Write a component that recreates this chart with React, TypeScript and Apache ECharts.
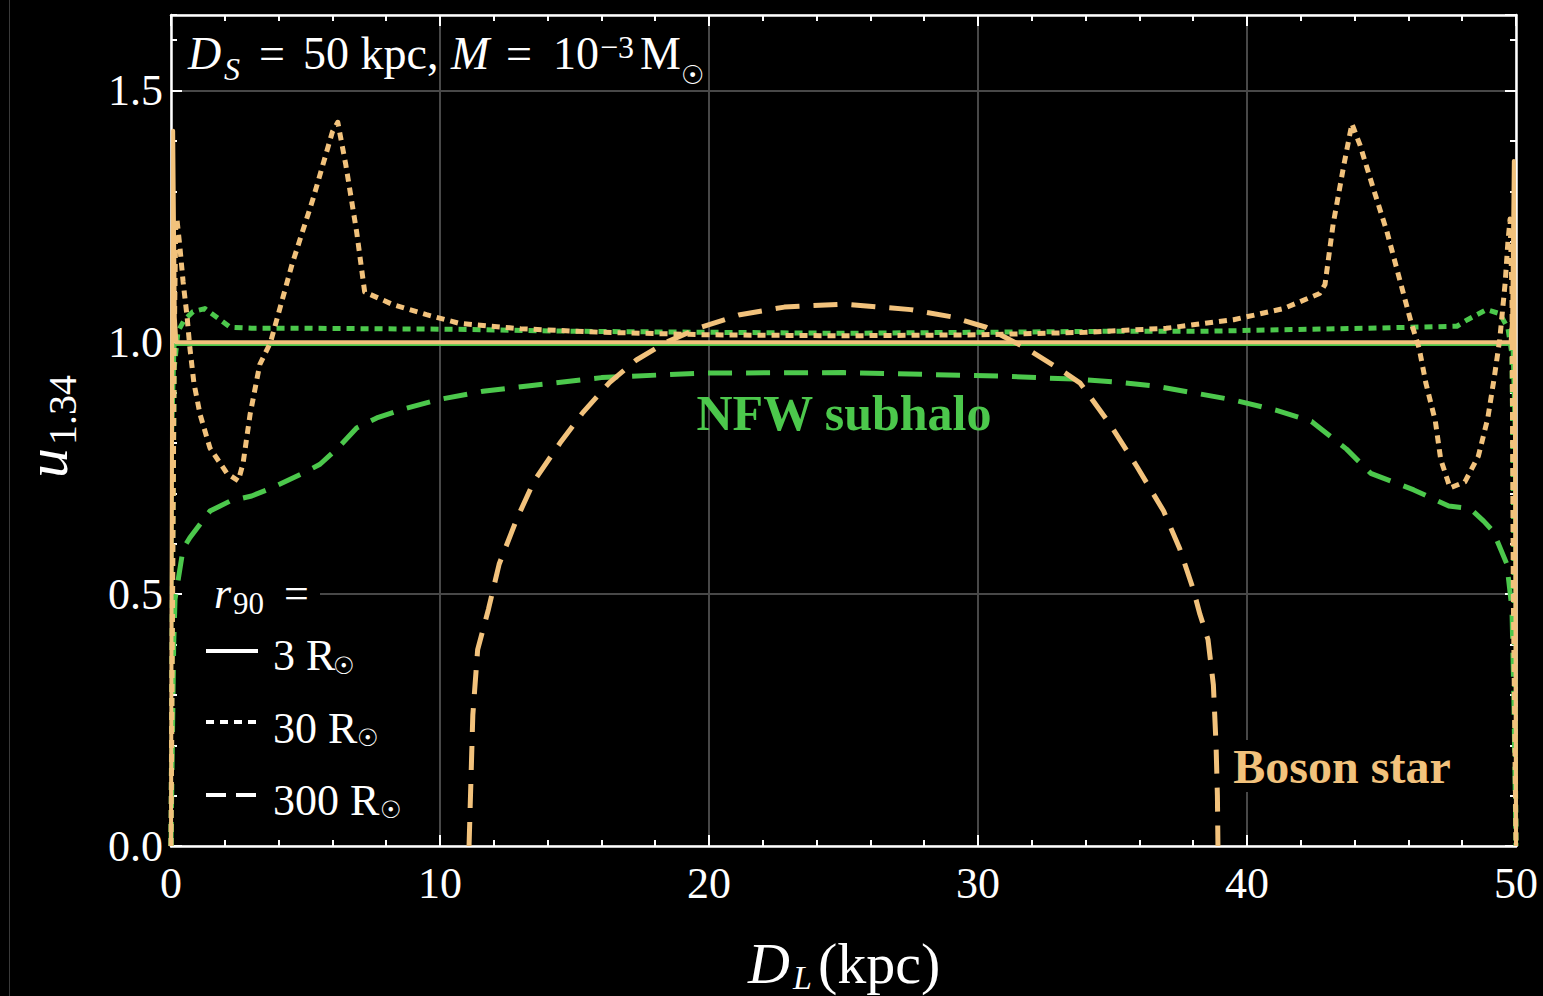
import React, { useEffect, useRef } from 'react';
import * as echarts from 'echarts';

const SERIF = "'Liberation Serif', 'DejaVu Serif', serif";
const BOSON = '#F2C27C';
const NFW = '#4CC84C';
const GRIDLINE = '#484848';

// r90 = 3 R☉ (boson star, solid)
const bosonSolidX = [0, 0.04, 0.08, 0.14, 0.2, 10, 20, 30, 40, 49.8, 49.86, 49.92, 49.96, 50];
const bosonSolidY = [0, 0.9, 1.42, 1.05, 1.0, 1.0, 1.0, 1.0, 1.0, 1.0, 1.05, 1.36, 0.9, 0];

// r90 = 3 R☉ (NFW subhalo, solid)
const nfwSolidX = [0, 0.05, 0.15, 10, 25, 40, 49.85, 49.95, 50];
const nfwSolidY = [0, 0.8, 0.996, 0.996, 0.996, 0.996, 0.996, 0.8, 0];

// r90 = 30 R☉ (boson star, dotted)
const bosonDottedX = [0, 0.12, 0.18, 0.22, 0.33, 0.45, 0.6, 0.7, 0.85, 1.08, 1.45, 2.08, 2.5, 2.68, 2.94, 3.3, 3.7, 4.5, 5.28, 6.0, 6.2, 6.5, 6.9, 7.2, 8.25, 9.5, 10.7, 13, 16, 20, 25, 30, 34, 37, 39.5, 41.35, 42.7, 42.9, 43.2, 43.6, 43.9, 44.2, 44.7, 45.2, 45.7, 46.1, 46.4, 46.65, 47.0, 47.2, 47.55, 48.1, 48.6, 48.95, 49.2, 49.4, 49.6, 49.7, 49.78, 49.85, 49.9, 50];
const bosonDottedY = [0, 1.0, 1.245, 1.245, 1.19, 1.12, 1.05, 0.99, 0.92, 0.857, 0.79, 0.74, 0.725, 0.76, 0.857, 0.956, 1.0, 1.155, 1.285, 1.418, 1.437, 1.352, 1.22, 1.1, 1.075, 1.055, 1.038, 1.027, 1.02, 1.015, 1.013, 1.015, 1.02, 1.028, 1.045, 1.067, 1.097, 1.115, 1.234, 1.352, 1.434, 1.392, 1.305, 1.22, 1.12, 1.04, 0.988, 0.919, 0.844, 0.768, 0.711, 0.723, 0.774, 0.849, 0.933, 1.008, 1.12, 1.2, 1.245, 1.1, 0.5, 0];

// r90 = 30 R☉ (NFW subhalo, dotted)
const nfwDottedX = [0, 0.06, 0.12, 0.26, 0.5, 0.82, 1.26, 1.7, 2.2, 3.0, 5, 10.5, 15, 20, 25, 30, 35, 38.25, 44.5, 47.8, 48.2, 48.9, 49.4, 49.7, 49.85, 49.92, 50];
const nfwDottedY = [0, 0.6, 0.95, 1.022, 1.045, 1.061, 1.067, 1.05, 1.03, 1.028, 1.028, 1.026, 1.022, 1.02, 1.018, 1.02, 1.022, 1.022, 1.028, 1.032, 1.045, 1.065, 1.057, 1.028, 0.976, 0.6, 0];

// r90 = 300 R☉ (boson star, dashed)
const bosonDashedX = [11.08, 11.15, 11.22, 11.4, 11.8, 12.2, 12.86, 13.5, 14.46, 15.3, 16.3, 17.3, 18.4, 19.7, 21.15, 22.8, 25, 27.5, 29, 30.3, 31.8, 33, 33.8, 34.9, 35.9, 36.9, 37.5, 38.0, 38.25, 38.55, 38.75, 38.85, 38.9, 38.92];
const bosonDashedY = [0, 0.13, 0.26, 0.39, 0.47, 0.56, 0.65, 0.725, 0.8, 0.86, 0.92, 0.965, 1.0, 1.03, 1.055, 1.07, 1.076, 1.065, 1.051, 1.03, 0.988, 0.948, 0.919, 0.838, 0.754, 0.665, 0.59, 0.51, 0.46, 0.41, 0.32, 0.2, 0.1, 0];

// r90 = 300 R☉ (NFW subhalo, dashed)
const nfwDashedX = [0, 0.05, 0.1, 0.15, 0.22, 0.45, 0.7, 1.45, 2.2, 3.0, 3.7, 4.9, 5.54, 6.2, 6.9, 7.65, 8.6, 10.0, 11.6, 13.5, 16, 19.7, 25, 30.8, 33.6, 35.2, 36.6, 38.1, 39.55, 41.1, 42.4, 43.7, 44.6, 46.2, 47.5, 48.3, 48.8, 49.15, 49.66, 49.85, 49.92, 50];
const nfwDashedY = [0, 0.2, 0.4, 0.49, 0.513, 0.59, 0.612, 0.665, 0.685, 0.695, 0.71, 0.74, 0.758, 0.79, 0.83, 0.85, 0.867, 0.887, 0.903, 0.915, 0.93, 0.939, 0.94, 0.933, 0.927, 0.921, 0.913, 0.899, 0.885, 0.865, 0.843, 0.788, 0.74, 0.707, 0.675, 0.67, 0.645, 0.625, 0.56, 0.47, 0.3, 0];

const X_MIN = 0;
const X_MAX = 50;
const Y_MIN = 0;
const Y_MAX = 1.65;

const pairs = (xs: number[], ys: number[]) => xs.map((x, i) => [x, ys[i]]);

const DOTTED = [8, 6];
const DASHED = [24, 14];

function curve(name: string, xs: number[], ys: number[], color: string, width: number, dash: any) {
  return {
    type: 'line',
    name,
    data: pairs(xs, ys),
    showSymbol: false,
    symbol: 'none',
    smooth: false,
    silent: true,
    clip: true,
    xAxisIndex: 0,
    yAxisIndex: 0,
    lineStyle: { color, width, type: dash, cap: 'butt', join: 'round' },
  };
}

function txt(x: number, y: number, text: string, size: number, opts: any = {}) {
  const align = opts.align || 'left';
  return {
    type: 'text',
    x,
    y,
    z: 100,
    silent: true,
    style: {
      text,
      fill: opts.color || '#ffffff',
      fontSize: size,
      fontFamily: SERIF,
      fontStyle: opts.italic ? 'italic' : 'normal',
      fontWeight: opts.bold ? 'bold' : 'normal',
      align,
      textAlign: align,
      verticalAlign: 'middle',
      textVerticalAlign: 'middle',
      backgroundColor: opts.bg,
      padding: opts.padding,
    },
  };
}

function hLine(x1: number, x2: number, y: number, dash?: number[]) {
  return {
    type: 'line',
    z: 100,
    silent: true,
    shape: { x1, y1: y, x2, y2: y },
    style: { stroke: '#ffffff', lineWidth: 4, lineDash: dash, lineCap: 'butt' },
  };
}

function xAxisDef(position: string, interval: number, tickLen: number, main: boolean, labels: boolean) {
  return {
    type: 'value',
    min: X_MIN,
    max: X_MAX,
    interval,
    position,
    axisLine: { show: main, onZero: false, lineStyle: { color: '#ffffff', width: 2.5 } },
    axisTick: { show: true, inside: true, length: tickLen, lineStyle: { color: '#ffffff', width: 2 } },
    axisLabel: labels
      ? { show: true, color: '#ffffff', fontSize: 44, fontFamily: SERIF, margin: 15 }
      : { show: false },
    splitLine: { show: labels, lineStyle: { color: GRIDLINE, width: 2 } },
    minorTick: { show: false },
  };
}

function yAxisDef(position: string, interval: number, tickLen: number, main: boolean, labels: boolean) {
  return {
    type: 'value',
    min: Y_MIN,
    max: Y_MAX,
    interval,
    position,
    axisLine: { show: main, onZero: false, lineStyle: { color: '#ffffff', width: 2.5 } },
    axisTick: { show: true, inside: true, length: tickLen, lineStyle: { color: '#ffffff', width: 2 } },
    axisLabel: labels
      ? {
          show: true,
          color: '#ffffff',
          fontSize: 44,
          fontFamily: SERIF,
          margin: 8,
          showMaxLabel: false,
          formatter: (v: number) => (Math.abs(v / 0.5 - Math.round(v / 0.5)) < 1e-6 ? v.toFixed(1) : ''),
        }
      : { show: false },
    splitLine: { show: labels, lineStyle: { color: GRIDLINE, width: 2 } },
    minorTick: { show: false },
  };
}

export default function App() {
  const ref = useRef<HTMLDivElement>(null);

  useEffect(() => {
    if (!ref.current) return;
    const chart = echarts.init(ref.current, undefined, { renderer: 'svg' });

    const graphics: any[] = [
      // thin frame line at the far left of the figure
      {
        type: 'line',
        z: 100,
        silent: true,
        shape: { x1: 9.5, y1: 0, x2: 9.5, y2: 996 },
        style: { stroke: '#3a3a3a', lineWidth: 1 },
      },
      // header: D_S = 50 kpc, M = 10^-3 M☉
      txt(188, 53, 'D', 46, { italic: true }),
      txt(224, 69, 'S', 32, { italic: true }),
      txt(259, 53, '=', 46),
      txt(303, 53, '50 kpc,', 46),
      txt(451, 53, 'M', 46, { italic: true }),
      txt(506, 53, '=', 46),
      txt(553, 53, '10', 46),
      txt(600, 47, '\u22123', 32),
      txt(640, 53, 'M', 46),
      txt(681, 75, '\u2609', 26),
      // legend
      {
        type: 'rect',
        z: 90,
        silent: true,
        shape: { x: 182, y: 584, width: 138, height: 20 },
        style: { fill: '#000000' },
      },
      txt(214, 593, 'r', 44, { italic: true }),
      txt(233, 603, '90', 31),
      txt(284, 593, '=', 44),
      hLine(206, 258, 651),
      txt(273, 655, '3 R', 44),
      txt(333, 666, '\u2609', 24),
      hLine(206, 256, 722, [8, 6]),
      txt(273, 728, '30 R', 44),
      txt(357, 738, '\u2609', 24),
      hLine(206, 258, 795, [20, 10]),
      txt(273, 800, '300 R', 44),
      txt(380, 810, '\u2609', 24),
      // curve annotations
      txt(844, 413, 'NFW subhalo', 50, { bold: true, color: NFW, align: 'center' }),
      txt(1342, 766, 'Boson star', 48, { bold: true, color: BOSON, align: 'center', bg: '#000000', padding: [2, 6] }),
      // x-axis title: D_L(kpc)
      txt(748, 963, 'D', 58, { italic: true }),
      txt(793, 977, 'L', 34, { italic: true }),
      txt(818, 963, '(kpc)', 58),
      // y-axis title: u_1.34 (rotated)
      {
        type: 'group',
        x: 55,
        y: 430.5,
        rotation: Math.PI / 2,
        z: 100,
        children: [
          txt(-47.5, -8, 'u', 60, { italic: true }),
          txt(-14.5, 7, '1.34', 40),
        ],
      },
    ];

    chart.setOption({
      animation: false,
      backgroundColor: '#000000',
      grid: { left: 171, right: 27, top: 15, bottom: 150, containLabel: false },
      xAxis: [
        xAxisDef('bottom', 10, 11, true, true),
        xAxisDef('bottom', 2, 6, false, false),
        xAxisDef('top', 10, 11, true, false),
        xAxisDef('top', 2, 6, false, false),
      ],
      yAxis: [
        yAxisDef('left', 0.5, 11, true, true),
        yAxisDef('left', 0.1, 6, false, false),
        yAxisDef('right', 0.5, 11, true, false),
        yAxisDef('right', 0.1, 6, false, false),
      ],
      series: [
        curve('NFW 300', nfwDashedX, nfwDashedY, NFW, 5, DASHED),
        curve('NFW 30', nfwDottedX, nfwDottedY, NFW, 5, DOTTED),
        curve('NFW 3', nfwSolidX, nfwSolidY, NFW, 3, 'solid'),
        curve('Boson 300', bosonDashedX, bosonDashedY, BOSON, 5, DASHED),
        curve('Boson 30', bosonDottedX, bosonDottedY, BOSON, 5, DOTTED),
        curve('Boson 3', bosonSolidX, bosonSolidY, BOSON, 4, 'solid'),
      ],
      graphic: graphics,
    });

    return () => chart.dispose();
  }, []);

  return (
    <div
      ref={ref}
      style={{ position: 'absolute', left: 0, top: 0, width: 1543, height: 996, background: '#000000' }}
    />
  );
}
